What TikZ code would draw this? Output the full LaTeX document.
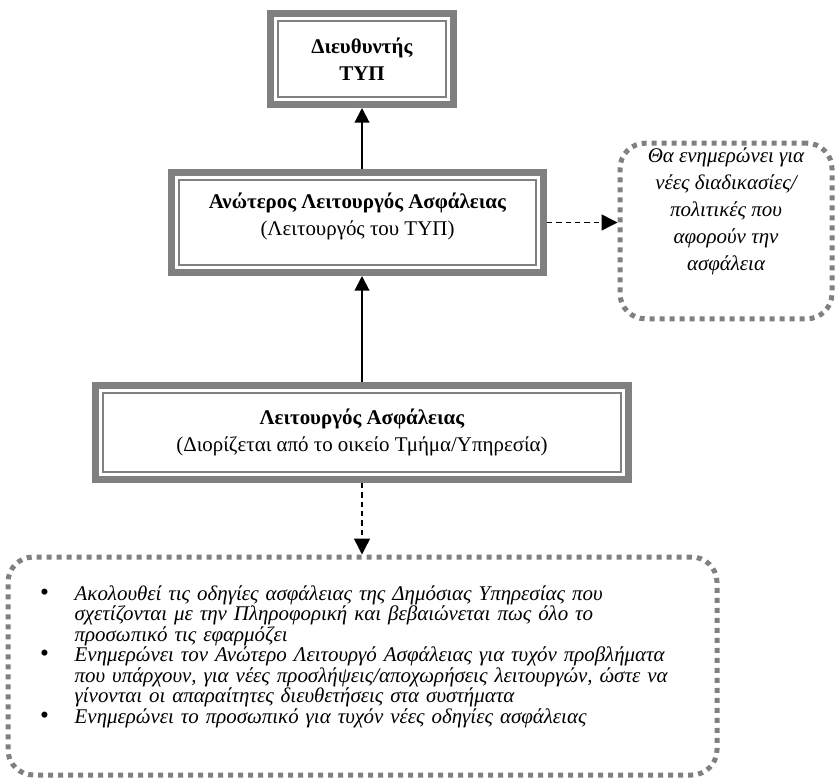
\documentclass[tikz,border=0pt]{standalone}
\usepackage{fontspec}
\setmainfont{Liberation Serif}
\usetikzlibrary{arrows.meta}

\newcommand{\bul}{{\upshape\fontsize{19}{14.5}\selectfont\textbullet}}

\tikzset{
  rolebox/.style={draw=gray, line width=5.25pt, fill=white, align=center,
    font=\fontsize{15.7}{20}\selectfont},
  innerline/.style={draw=gray, line width=1.5pt},
  notebox/.style={draw=gray, line width=3.75pt, dash pattern=on 3.75pt off 3.75pt,
    rounded corners=19pt, font=\itshape},
  uparrow/.style={line width=1.5pt, -{Triangle[length=11pt,width=11pt]}},
  notearrow/.style={line width=1.1pt, dash pattern=on 4pt off 3pt,
    -{Triangle[length=12pt,width=12pt]}},
}

\begin{document}
\begin{tikzpicture}[x=0.75pt,y=-0.75pt]
  \useasboundingbox (0,0) rectangle (838,780);

  % Ierarchia
  \node[rolebox, minimum width=137.25pt, minimum height=68.25pt] (dir) at (362,59)
    {\textbf{Διευθυντής}\\\textbf{ΤΥΠ}};
  \node[rolebox, minimum width=279pt, minimum height=75pt, text depth=12.5pt] (anot) at (357.5,222.5)
    {\textbf{Ανώτερος Λειτουργός Ασφάλειας}\\(Λειτουργός του ΤΥΠ)};
  \node[rolebox, minimum width=399.75pt, minimum height=70.5pt] (leit) at (362,432.5)
    {\textbf{Λειτουργός Ασφάλειας}\\(Διορίζεται από το οικείο Τμήμα/Υπηρεσία)};

  % Esoteriki grammi
  \foreach \n in {dir,anot,leit}
    \draw[innerline] ([shift={(8.25pt,-8.25pt)}]\n.north west)
      rectangle ([shift={(-8.25pt,8.25pt)}]\n.south east);

  % Simeioseis
  \node[notebox, minimum width=159pt, minimum height=124.5pt, align=center,
    font=\itshape\fontsize{15.7}{20.25}\selectfont, text depth=33pt] (nea) at (726,231)
    {Θα ενημερώνει για\\νέες διαδικασίες/\\πολιτικές που\\αφορούν την\\ασφάλεια};

  \node[notebox, minimum width=531.75pt, minimum height=163.5pt, text width=483.75pt,
    align=left, font=\itshape\fontsize{15.7}{14.5}\selectfont] (odig) at (362.5,666)
    {\begin{tabular}{@{}p{26pt}@{}l@{}}
      \bul & Ακολουθεί τις οδηγίες ασφάλειας της Δημόσιας Υπηρεσίας που\\
       & σχετίζονται με την Πληροφορική και βεβαιώνεται πως όλο το\\
       & προσωπικό τις εφαρμόζει\\
      \bul & Ενημερώνει τον Ανώτερο Λειτουργό Ασφάλειας για τυχόν προβλήματα\\
       & που υπάρχουν, για νέες προσλήψεις/αποχωρήσεις λειτουργών, ώστε να\\
       & γίνονται οι απαραίτητες διευθετήσεις στα συστήματα\\
      \bul & Ενημερώνει το προσωπικό για τυχόν νέες οδηγίες ασφάλειας\\[13pt]
    \end{tabular}};

  % Velakia
  \draw[uparrow] (dir.south |- anot.north) -- (dir.south);
  \draw[uparrow] (leit.north) -- (leit.north |- anot.south);
  \draw[notearrow] (anot.east) -- (anot.east -| nea.west);
  \draw[notearrow] (leit.south) -- (leit.south |- odig.north);

\end{tikzpicture}
\end{document}
